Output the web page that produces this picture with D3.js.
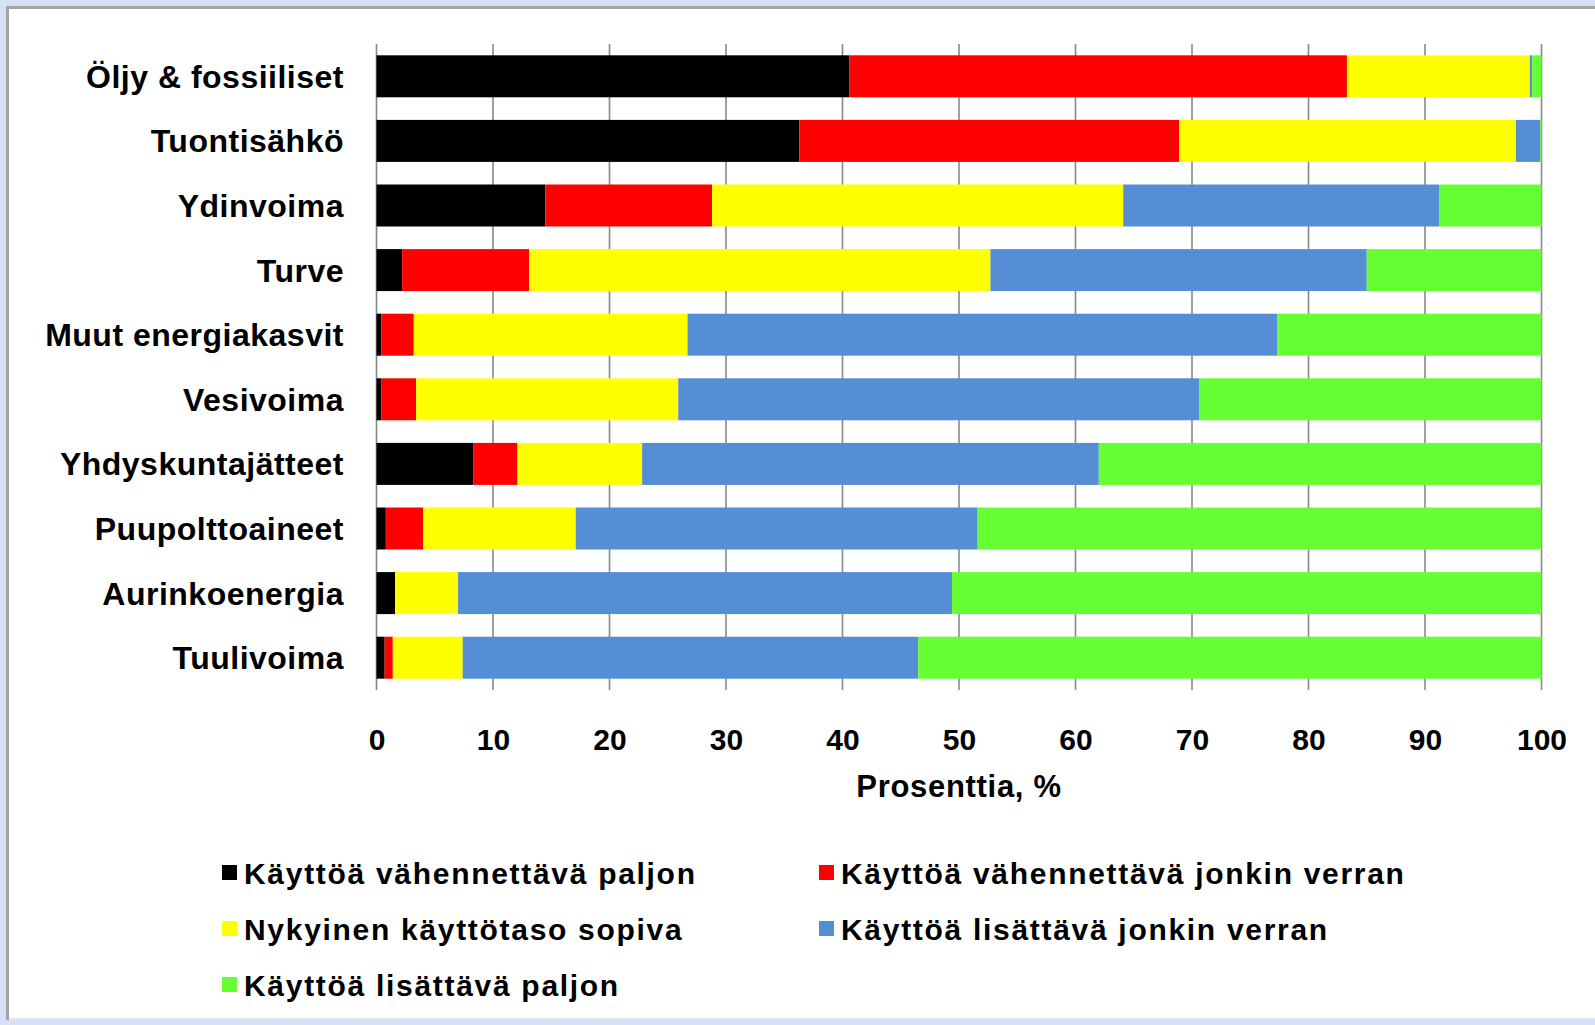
<!DOCTYPE html>
<html>
<head>
<meta charset="utf-8">
<script src="https://cdn.jsdelivr.net/npm/d3@7"></script>
<style>
  html, body { margin: 0; padding: 0; background: #d6e0f6; }
  svg { display: block; }
  text { font-family: "Liberation Sans", Arial, sans-serif; fill: #000; }
</style>
</head>
<body>
<svg id="chart" width="1595" height="1025"></svg>
<script>
const categories = ["Öljy & fossiiliset", "Tuontisähkö", "Ydinvoima", "Turve", "Muut energiakasvit", "Vesivoima", "Yhdyskuntajätteet", "Puupolttoaineet", "Aurinkoenergia", "Tuulivoima"];
const seriesNames = ["Käyttöä vähennettävä paljon", "Käyttöä vähennettävä jonkin verran", "Nykyinen käyttötaso sopiva", "Käyttöä lisättävä jonkin verran", "Käyttöä lisättävä paljon"];
const vahennettavaPaljon = [40.6, 36.3, 14.5, 2.2, 0.4, 0.4, 8.3, 0.8, 1.6, 0.7];
const vahennettavaJonkin = [42.7, 32.6, 14.3, 10.9, 2.8, 3.0, 3.8, 3.2, 0.0, 0.7];
const nykyinenSopiva = [15.7, 28.9, 35.3, 39.6, 23.5, 22.5, 10.7, 13.1, 5.4, 6.0];
const lisattavaJonkin = [0.2, 2.1, 27.1, 32.3, 50.6, 44.7, 39.2, 34.5, 42.4, 39.1];
const lisattavaPaljon = [0.8, 0.1, 8.8, 15.0, 22.7, 29.4, 38.0, 48.4, 50.6, 53.5];
const xTicks = [0, 10, 20, 30, 40, 50, 60, 70, 80, 90, 100];
const colors = ["#000000", "#ff0000", "#ffff00", "#558ed5", "#66ff33"];
const axisTitle = "Prosenttia, %";

const seriesValues = [vahennettavaPaljon, vahennettavaJonkin, nykyinenSopiva, lisattavaJonkin, lisattavaPaljon];
const rows = categories.map((c, i) => {
  const r = { cat: c };
  seriesNames.forEach((s, j) => r[s] = seriesValues[j][i]);
  return r;
});

const svg = d3.select("#chart");

// frame
svg.append("rect").attr("x", 0).attr("y", 0).attr("width", 1595).attr("height", 1025).attr("fill", "#d6e0f6");
svg.append("rect").attr("x", 6).attr("y", 6).attr("width", 1589).attr("height", 1014).attr("fill", "#a4a4a4");
svg.append("rect").attr("x", 9).attr("y", 9).attr("width", 1586).attr("height", 1010).attr("fill", "#ffffff");
svg.append("rect").attr("x", 9).attr("y", 1018).attr("width", 1586).attr("height", 2).attr("fill", "#e4e6ea");

const plot = { left: 376.5, right: 1541.5, top: 44, bottom: 690 };

const x = d3.scaleLinear().domain([0, 100]).range([plot.left, plot.right]);
const y = d3.scaleBand().domain(categories).range([plot.top, plot.bottom]).paddingInner(0.35).paddingOuter(0.175);

// gridlines + ticks
const g = svg.append("g");
g.selectAll("line.grid").data(xTicks).join("line")
  .attr("class", "grid")
  .attr("x1", d => x(d)).attr("x2", d => x(d))
  .attr("y1", plot.top).attr("y2", plot.bottom)
  .attr("stroke", "#888888").attr("stroke-width", 1.6);

// bars
const stack = d3.stack().keys(seriesNames)(rows);
svg.append("g").selectAll("g").data(stack).join("g")
  .attr("fill", (d, i) => colors[i])
  .selectAll("rect").data(d => d).join("rect")
  .attr("x", d => x(d[0]))
  .attr("width", d => Math.max(0, x(d[1]) - x(d[0])))
  .attr("y", d => y(d.data.cat))
  .attr("height", y.bandwidth());

// x axis labels
const xAxis = d3.axisBottom(x).tickValues(xTicks).tickSize(0).tickPadding(0).tickFormat(d3.format("d"));
const xa = svg.append("g").attr("transform", `translate(0, ${plot.bottom})`).call(xAxis);
xa.select(".domain").remove();
xa.selectAll("text")
  .attr("y", 60).attr("dy", null)
  .style("font-size", "30px").style("font-weight", "bold")
  .style("font-family", '"Liberation Sans", Arial, sans-serif')
  .attr("fill", "#000");

// y axis labels
const yAxis = d3.axisLeft(y).tickSize(0).tickPadding(0);
const ya = svg.append("g").attr("transform", `translate(344, 0)`).call(yAxis);
ya.select(".domain").remove();
ya.selectAll("text")
  .attr("dy", "0.36em")
  .style("font-size", "32px").style("font-weight", "bold")
  .style("letter-spacing", "0.5px")
  .style("font-family", '"Liberation Sans", Arial, sans-serif')
  .attr("fill", "#000");

// axis title
svg.append("text")
  .attr("x", (plot.left + plot.right) / 2).attr("y", 797)
  .attr("text-anchor", "middle")
  .style("font-size", "31px").style("font-weight", "bold").style("letter-spacing", "0.7px")
  .text(axisTitle);

// legend
const legendPos = [
  { x: 222, y: 873 }, { x: 819, y: 873 },
  { x: 222, y: 929 }, { x: 819, y: 929 },
  { x: 222, y: 985 }
];
const lg = svg.append("g").selectAll("g").data(seriesNames).join("g")
  .attr("transform", (d, i) => `translate(${legendPos[i].x}, ${legendPos[i].y})`);
lg.append("rect").attr("x", 0).attr("y", -8).attr("width", 15).attr("height", 15)
  .attr("fill", (d, i) => colors[i]);
lg.append("text").attr("x", 22).attr("dy", "0.36em")
  .style("font-size", "30px").style("font-weight", "bold").style("letter-spacing", "1.7px")
  .text(d => d);
</script>
</body>
</html>
